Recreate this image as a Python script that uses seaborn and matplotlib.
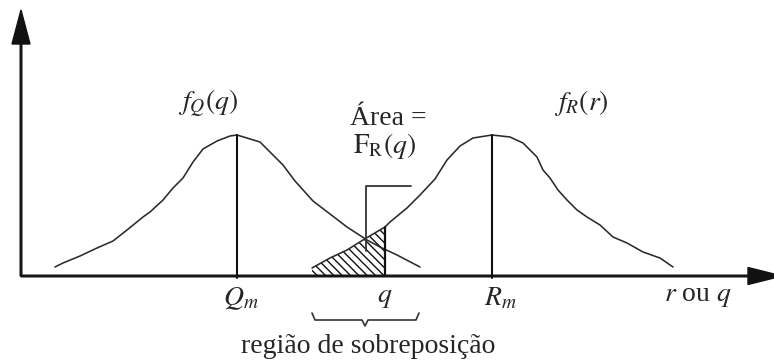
import matplotlib
matplotlib.use("Agg")
import matplotlib.pyplot as plt
import seaborn as sns

# Density of the load Q: horizontal position and height above the r/q axis
load_x = [55, 63, 80, 97, 113, 127, 143, 150, 163, 173, 183, 193, 203, 217, 230, 237,
          260, 283, 295, 313, 330, 347, 367, 380, 397, 420]
load_h = [9, 13, 20, 28, 35, 46, 59, 64, 76, 88, 98, 114, 127, 135, 140, 141,
          134, 111, 95, 75, 62, 49, 36, 29, 21, 9]

# Density of the resistance R
res_x = [312, 330, 347, 363, 385, 390, 407, 420, 435, 447, 460, 473, 492, 510, 523, 530,
         537, 543, 550, 558, 567, 577, 587, 600, 613, 627, 643, 660, 673]
res_h = [8, 18, 26, 36, 49, 54, 68, 81, 97, 116, 130, 138, 141, 139, 133, 126,
         119, 106, 98, 86, 76, 66, 59, 51, 39, 33, 24, 18, 9]

# Means and the chosen value q
q_mean, r_mean, q_value = 237, 492, 385
peak_h = 141

sns.set_style("white")
plt.rcParams["mathtext.fontset"] = "stix"
plt.rcParams["hatch.linewidth"] = 1.0
serif = ["Liberation Serif", "DejaVu Serif"]
sans = ["Liberation Sans", "DejaVu Sans"]

fig = plt.figure(figsize=(7.74, 3.61), dpi=100)
ax = fig.add_axes([0, 0, 1, 1])
ax.set_xlim(0, 774)
ax.set_ylim(-85, 276)
ax.axis("off")

ink = "#111111"
curve = "#2b2b2b"

# axes with arrow heads
ax.arrow(21, 0, 0, 266, width=1.6, head_width=18, head_length=34,
         length_includes_head=True, color=ink, zorder=3)
ax.arrow(21, 0, 761, 0, width=1.6, head_width=17, head_length=34,
         length_includes_head=True, color=ink, zorder=3)

# the two density curves
sns.lineplot(x=load_x, y=load_h, ax=ax, color=curve, lw=1.15, estimator=None)
sns.lineplot(x=res_x, y=res_h, ax=ax, color=curve, lw=1.15, estimator=None)

# overlap area F_R(q): resistance curve up to q
hx = [x for x in res_x if x <= q_value]
hy = [h for x, h in zip(res_x, res_h) if x <= q_value]
ax.fill_between(hx, 0, hy, facecolor="none", edgecolor=ink, hatch="\\\\\\\\", lw=0)
ax.plot([q_value, q_value], [0, hy[-1]], color=ink, lw=1.6)

# lines at the means
ax.plot([q_mean, q_mean], [-2, peak_h], color=ink, lw=1.5)
ax.plot([r_mean, r_mean], [-2, peak_h], color=ink, lw=1.5)

# leader from the "Área" label to the crossing of the curves
ax.plot([411, 366, 366], [90, 90, 25], color="#333333", lw=1.3)

# brace under the overlap region
bx0, bx1, bmid = 312, 419, 365
ax.plot([bx0, bx0 + 3, bmid - 3, bmid, bmid + 3, bx1 - 3, bx1],
        [-37, -44, -44, -50, -44, -44, -37], color="#333333", lw=1.2)

fs = 20
ax.text(208, 166, r"$f_Q(q)$", fontsize=fs, ha="center", va="baseline", family=serif)
ax.text(581, 166, r"$f_R(r)$", fontsize=fs, ha="center", va="baseline", family=serif)
ax.text(388, 151, "Área =", fontsize=fs, ha="center", va="baseline", family=serif)
ax.text(384, 123, r"$\mathrm{F}_{\mathrm{R}}(q)$", fontsize=fs, ha="center",
        va="baseline", family=serif)
ax.text(241, -29, r"$Q_m$", fontsize=fs, ha="center", va="baseline", family=serif)
ax.text(385, -26, r"$q$", fontsize=fs, ha="center", va="baseline", family=serif)
ax.text(501, -29, r"$R_m$", fontsize=fs, ha="center", va="baseline", family=serif)
ax.text(698, -25, r"$r$ ou $q$", fontsize=fs, ha="center", va="baseline", family=serif)
ax.text(368, -77, "região de sobreposição", fontsize=fs, ha="center", va="baseline",
        family=serif)

# heading, sitting just above the top edge
head_y = 288
ax.text(42, head_y, "Distribuição de densidade de probabilidade", fontsize=20,
        fontweight="bold", ha="left", va="baseline", family=sans, clip_on=False)
ax.text(662, head_y, r"$\mathbf{\mathit{f}}_{\mathbf{Q}}\mathbf{(}\mathit{q}\mathbf{)}$",
        fontsize=20, ha="left", va="baseline", family=serif, clip_on=False)
ax.text(737, head_y, "e", fontsize=20, fontweight="bold", ha="center", va="baseline",
        family=sans, clip_on=False)
ax.text(764, head_y, r"$f_R(r)$", fontsize=20, ha="left", va="baseline",
        family=serif, clip_on=False)

fig.savefig("out.png", dpi=100)
